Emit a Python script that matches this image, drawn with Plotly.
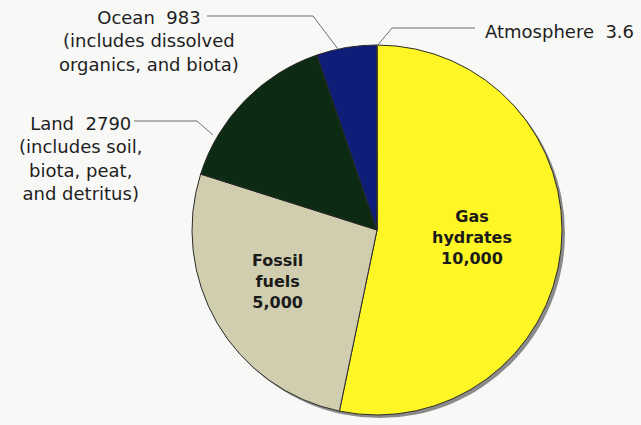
import plotly.graph_objects as go

# ---- data ----
categories = ["Gas hydrates", "Fossil fuels", "Land", "Ocean", "Atmosphere"]
values = [10000, 5000, 2790, 983, 3.6]
notes = ["", "", "(includes soil,<br>biota, peat,<br>and detritus)",
         "(includes dissolved<br>organics, and biota)", ""]
colors = ["#FFF626", "#D1CEB0", "#0D2A13", "#0E1D78", "#E6E6E6"]

W, H = 641, 425
def px(x): return x / W
def py(y): return 1 - y / H

cx, cy, r = 377, 230, 185

fig = go.Figure()
fig.add_trace(go.Pie(
    labels=categories, values=values, sort=False, direction="clockwise",
    rotation=0, textinfo="none", hoverinfo="label+value",
    marker=dict(colors=colors, line=dict(color="#2a2a2a", width=1)),
    domain=dict(x=[px(cx - r), px(cx + r)], y=[py(cy + r), py(cy - r)]),
    showlegend=False,
))

def fmt_plain(v):
    return str(int(v)) if float(v).is_integer() else str(v)

outer_font = dict(family="DejaVu Sans", size=18, color="#1e1e1e")
inner_font = dict(family="DejaVu Sans", size=16, color="#1a1a1a")

annotations = []
# inside labels
gi = categories.index("Gas hydrates")
fi = categories.index("Fossil fuels")
annotations.append(dict(x=px(472), y=py(237), xref="paper", yref="paper",
    text="<b>Gas<br>hydrates<br>%s</b>" % f"{values[gi]:,}", showarrow=False,
    font=inner_font, align="center", xanchor="center", yanchor="middle"))
annotations.append(dict(x=px(277), y=py(281), xref="paper", yref="paper",
    text="<b>Fossil<br>fuels<br>%s</b>" % f"{values[fi]:,}", showarrow=False,
    font=inner_font, align="center", xanchor="center", yanchor="middle"))

# outer labels
oi = categories.index("Ocean")
li = categories.index("Land")
ai = categories.index("Atmosphere")
annotations.append(dict(x=px(149), y=py(41), xref="paper", yref="paper",
    text="%s  %s<br>%s" % (categories[oi], fmt_plain(values[oi]), notes[oi]),
    showarrow=False, font=outer_font, align="center",
    xanchor="center", yanchor="middle"))
annotations.append(dict(x=px(80), y=py(158), xref="paper", yref="paper",
    text="%s  %s<br>%s" % (categories[li], fmt_plain(values[li]), notes[li]),
    showarrow=False, font=outer_font, align="center",
    xanchor="center", yanchor="middle"))
annotations.append(dict(x=px(483), y=py(31), xref="paper", yref="paper",
    text="%s  %s" % (categories[ai], fmt_plain(values[ai])),
    showarrow=False, font=outer_font, align="left",
    xanchor="left", yanchor="middle"))

line_style = dict(color="#6e6e6e", width=1)
shapes = [
    # shadow behind pie
    dict(type="circle", xref="paper", yref="paper", layer="below",
         x0=px(cx - r + 3), x1=px(cx + r + 3), y0=py(cy + r + 3), y1=py(cy - r + 3),
         fillcolor="#8a8a8a", line=dict(width=0)),
    # Ocean leader
    dict(type="path", xref="paper", yref="paper",
         path="M %f %f L %f %f L %f %f" % (px(207), py(16), px(313), py(16), px(338), py(49)),
         line=line_style),
    # Land leader
    dict(type="path", xref="paper", yref="paper",
         path="M %f %f L %f %f L %f %f" % (px(134), py(121), px(197), py(121), px(213), py(135)),
         line=line_style),
    # Atmosphere leader
    dict(type="path", xref="paper", yref="paper",
         path="M %f %f L %f %f L %f %f" % (px(475), py(28), px(392), py(28), px(377), py(46)),
         line=line_style),
]

fig.update_layout(
    width=W, height=H, margin=dict(l=0, r=0, t=0, b=0),
    paper_bgcolor="#F8F8F6", plot_bgcolor="#F8F8F6",
    annotations=annotations, shapes=shapes,
)

fig.write_html("out.html", config={"displayModeBar": False},
               post_script="document.body.style.margin='0';document.body.style.background='#F8F8F6';")
